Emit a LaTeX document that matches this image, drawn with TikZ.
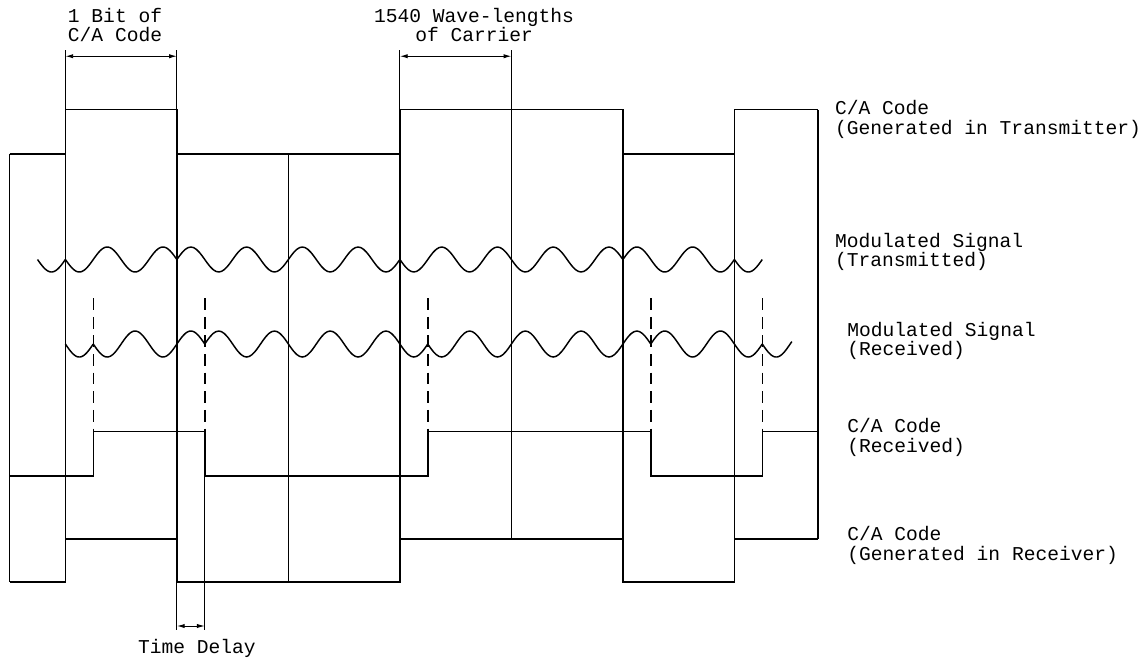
\documentclass[tikz,border=0pt]{standalone}
\usepackage{fontspec}
\newfontfamily\monofont{Liberation Mono}
\usetikzlibrary{arrows.meta}

\tikzset{
  lbl/.style={font=\monofont\fontsize{10}{10}\selectfont, align=left, anchor=west, inner sep=0pt},
  ctrlbl/.style={lbl, align=center, anchor=center},
  sig/.style={line width=0.75pt},
  ext/.style={line width=0.5pt},
  dimline/.style={line width=0.5pt, {Latex[length=4pt,width=2.2pt]}-{Latex[length=4pt,width=2.2pt]}},
  delayed/.style={line width=0.75pt, dash pattern=on 6pt off 3.5pt},
}

\begin{document}
\begin{tikzpicture}
    \useasboundingbox (-1.173,0) rectangle (19.329,11.839);

    % C/A code generated in transmitter
    \draw[sig] (-1,9.08) -- (0,9.08) -- (0,9.87) -- (2,9.87) -- (2,9.08) -- (6,9.08)
        -- (6,9.87) -- (10,9.87) -- (10,9.08) -- (12,9.08) -- (12,9.87) -- (13.5,9.87);

    % C/A code received (delayed)
    \draw[sig] (-1,3.30) -- (0.5,3.30) -- (0.5,4.10) -- (2.5,4.10) -- (2.5,3.30) -- (6.5,3.30)
        -- (6.5,4.10) -- (10.5,4.10) -- (10.5,3.30) -- (12.5,3.30) -- (12.5,4.10) -- (13.5,4.10);

    % C/A code generated in receiver
    \draw[sig] (-1,1.40) -- (0,1.40) -- (0,2.17) -- (2,2.17) -- (2,1.40) -- (6,1.40)
        -- (6,2.17) -- (10,2.17) -- (10,1.40) -- (12,1.40) -- (12,2.17) -- (13.5,2.17);

    % bit boundaries
    \foreach \x/\t/\b in {-1/9.08/1.40, 0/9.87/1.40, 2/9.87/1.40, 4/9.08/1.40, 6/9.87/1.40,
        8/9.87/2.17, 10/9.87/1.40, 12/9.87/1.40, 13.5/9.87/2.17}
        \draw[sig] (\x,\t) -- (\x,\b);

    % delayed transitions
    \foreach \x in {0.5,2.5,6.5,10.5,12.5}
        \draw[delayed] (\x,6.49) -- (\x,4.10);

    % modulated signal (transmitted)
    \foreach \a/\b/\s in {-0.5/0/1, 0/2/-1, 2/6/1, 6/10/-1, 10/12/1, 12/12.5/-1}
        \draw[sig] plot[domain=\a:\b, samples=81, smooth] (\x,{7.184+\s*0.224*sin(360*\x)});

    % modulated signal (received)
    \foreach \a/\b/\s in {0/0.5/-1, 0.5/2.5/1, 2.5/6.5/-1, 6.5/10.5/1, 10.5/12.5/-1, 12.5/13.03/1}
        \draw[sig] plot[domain=\a:\b, samples=81, smooth] (\x,{5.668+\s*0.233*sin(360*\x)});

    % dimensions
    \coordinate (bitL) at (0,10.83);
    \coordinate (bitR) at (2,10.83);
    \coordinate (waveL) at (6,10.83);
    \coordinate (waveR) at (8,10.83);
    \coordinate (delayL) at (2,0.61);
    \coordinate (delayR) at (2.5,0.61);
    \foreach \x in {0,2,6,8}
        \draw[ext] (\x,10.94) -- (\x,9.87);
    \draw[ext] (2,1.40) -- (2,0.54);
    \draw[ext] (2.5,3.30) -- (2.5,0.54);
    \draw[dimline] (bitL) -- (bitR);
    \draw[dimline] (waveL) -- (waveR);
    \draw[dimline] (delayL) -- (delayR);

    % labels
    \node[ctrlbl] (bitlbl) at (0.89,11.39) {1 Bit of\\C/A Code};
    \node[ctrlbl] (wavelbl) at (7.33,11.39) {1540 Wave-lengths\\of Carrier};
    \node[ctrlbl] (delaylbl) at (2.36,0.215) {Time Delay};
    \node[lbl] (txcode) at (13.80,9.70) {C/A Code\\(Generated in Transmitter)};
    \node[lbl] (txsig) at (13.80,7.32) {Modulated Signal\\(Transmitted)};
    \node[lbl] (rxsig) at (14.02,5.72) {Modulated Signal\\(Received)};
    \node[lbl] (rxcode) at (14.02,3.99) {C/A Code\\(Received)};
    \node[lbl] (gencode) at (14.02,2.06) {C/A Code\\(Generated in Receiver)};
\end{tikzpicture}
\end{document}
